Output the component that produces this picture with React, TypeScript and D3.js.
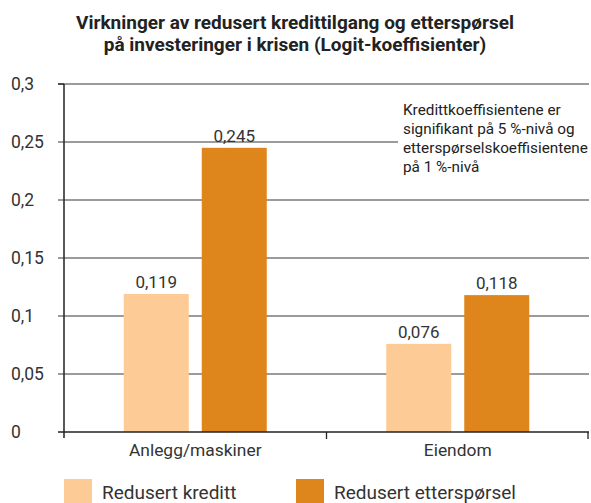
import React, { useRef, useEffect } from 'react';
import * as d3 from 'd3';

const categories = ['Anlegg/maskiner', 'Eiendom'];
const seriesNames = ['Redusert kreditt', 'Redusert etterspørsel'];
const kredittValues = [0.119, 0.076];
const ettersporselValues = [0.245, 0.118];
const yTicks = [0, 0.05, 0.1, 0.15, 0.2, 0.25, 0.3];
const titleLines = [
  'Virkninger av redusert kredittilgang og etterspørsel',
  'på investeringer i krisen (Logit-koeffisienter)',
];
const noteLines = [
  'Kredittkoeffisientene er',
  'signifikant på 5 %-nivå og',
  'etterspørselskoeffisientene',
  'på 1 %-nivå',
];

const colors = ['#FDCB95', '#DE851B'];
const font = 'Roboto, "Open Sans", sans-serif';
const fmt = (v: number) => String(v).replace('.', ',');

const App = () => {
  const ref = useRef<SVGSVGElement>(null);
  const W = 591;
  const H = 503;
  const margin = { top: 84, right: 2, bottom: 71, left: 64 };

  useEffect(() => {
    const svg = d3.select(ref.current);
    svg.selectAll('*').remove();

    const innerW = W - margin.left - margin.right;
    const innerH = H - margin.top - margin.bottom;

    // Title
    svg.append('g')
      .selectAll('text')
      .data(titleLines)
      .join('text')
      .attr('x', 295)
      .attr('y', (d, i) => 29 + i * 22)
      .attr('text-anchor', 'middle')
      .style('font-family', font)
      .style('font-weight', 'bold')
      .style('font-size', '19px')
      .style('fill', '#222')
      .text(d => d);

    const g = svg.append('g')
      .attr('transform', `translate(${margin.left},${margin.top})`);

    const x0 = d3.scaleBand()
      .domain(categories)
      .range([0, innerW]);

    const x1 = d3.scaleBand()
      .domain(seriesNames)
      .range([x0.bandwidth() / 2 - 71.5, x0.bandwidth() / 2 + 71.5])
      .paddingInner(0.1667);

    const y = d3.scaleLinear()
      .domain([0, 0.3])
      .range([innerH, 0]);

    // Gridlines
    g.append('g')
      .selectAll('line')
      .data(yTicks.filter(t => t > 0))
      .join('line')
      .attr('x1', -6)
      .attr('x2', innerW)
      .attr('y1', d => y(d))
      .attr('y2', d => y(d))
      .attr('stroke', '#7a7a7a')
      .attr('stroke-width', 1.3);

    // Y tick labels
    g.append('g')
      .selectAll('text')
      .data(yTicks)
      .join('text')
      .attr('x', -53)
      .attr('y', d => y(d))
      .attr('dy', '0.35em')
      .style('font-family', font)
      .style('font-size', '17.5px')
      .style('fill', '#333')
      .text(d => fmt(d));

    // Bars
    const seriesData = [kredittValues, ettersporselValues];
    categories.forEach((cat, ci) => {
      seriesNames.forEach((s, si) => {
        const v = seriesData[si][ci];
        const bx = x0(cat)! + x1(s)!;
        g.append('rect')
          .attr('x', bx)
          .attr('y', y(v))
          .attr('width', x1.bandwidth())
          .attr('height', innerH - y(v))
          .attr('fill', colors[si]);
        g.append('text')
          .attr('x', bx + x1.bandwidth() / 2)
          .attr('y', y(v) - 6)
          .attr('text-anchor', 'middle')
          .style('font-family', font)
          .style('font-size', '17px')
          .style('fill', '#333')
          .text(fmt(v));
      });
    });

    // Note box
    g.append('rect')
      .attr('x', 334)
      .attr('y', 14)
      .attr('width', innerW - 334)
      .attr('height', 80)
      .attr('fill', '#fff');
    g.append('g')
      .selectAll('text')
      .data(noteLines)
      .join('text')
      .attr('x', 339)
      .attr('y', (d, i) => 31 + i * 19)
      .style('font-family', font)
      .style('font-size', '15.3px')
      .style('fill', '#222')
      .text(d => d);

    // Axes lines
    g.append('line')
      .attr('x1', 0).attr('x2', 0)
      .attr('y1', 0).attr('y2', innerH + 6)
      .attr('stroke', '#222')
      .attr('stroke-width', 1.5);
    g.append('line')
      .attr('x1', -6).attr('x2', innerW)
      .attr('y1', innerH).attr('y2', innerH)
      .attr('stroke', '#222')
      .attr('stroke-width', 1.5);
    g.append('line')
      .attr('x1', -6).attr('x2', 0)
      .attr('y1', 0).attr('y2', 0)
      .attr('stroke', '#222')
      .attr('stroke-width', 1.3);
    // category separator ticks
    [x0.bandwidth(), innerW - 1].forEach(tx => {
      g.append('line')
        .attr('x1', tx).attr('x2', tx)
        .attr('y1', innerH).attr('y2', innerH + 7)
        .attr('stroke', '#222')
        .attr('stroke-width', 1.3);
    });

    // Category labels
    g.append('g')
      .selectAll('text')
      .data(categories)
      .join('text')
      .attr('x', d => x0(d)! + x0.bandwidth() / 2)
      .attr('y', innerH + 24)
      .attr('text-anchor', 'middle')
      .style('font-family', font)
      .style('font-size', '17.4px')
      .style('fill', '#333')
      .text(d => d);

    // Legend
    const legendX = [64, 296];
    seriesNames.forEach((s, i) => {
      svg.append('rect')
        .attr('x', legendX[i])
        .attr('y', 479)
        .attr('width', 28)
        .attr('height', 26)
        .attr('fill', colors[i]);
      svg.append('text')
        .attr('x', legendX[i] + 38)
        .attr('y', 499)
        .style('font-family', font)
        .style('font-size', '19px')
        .style('fill', '#333')
        .text(s);
    });
  }, []);

  return (
    <svg
      ref={ref}
      width={W}
      height={H}
      style={{ position: 'absolute', left: 0, top: 0, background: '#fff' }}
    />
  );
};

export default App;
